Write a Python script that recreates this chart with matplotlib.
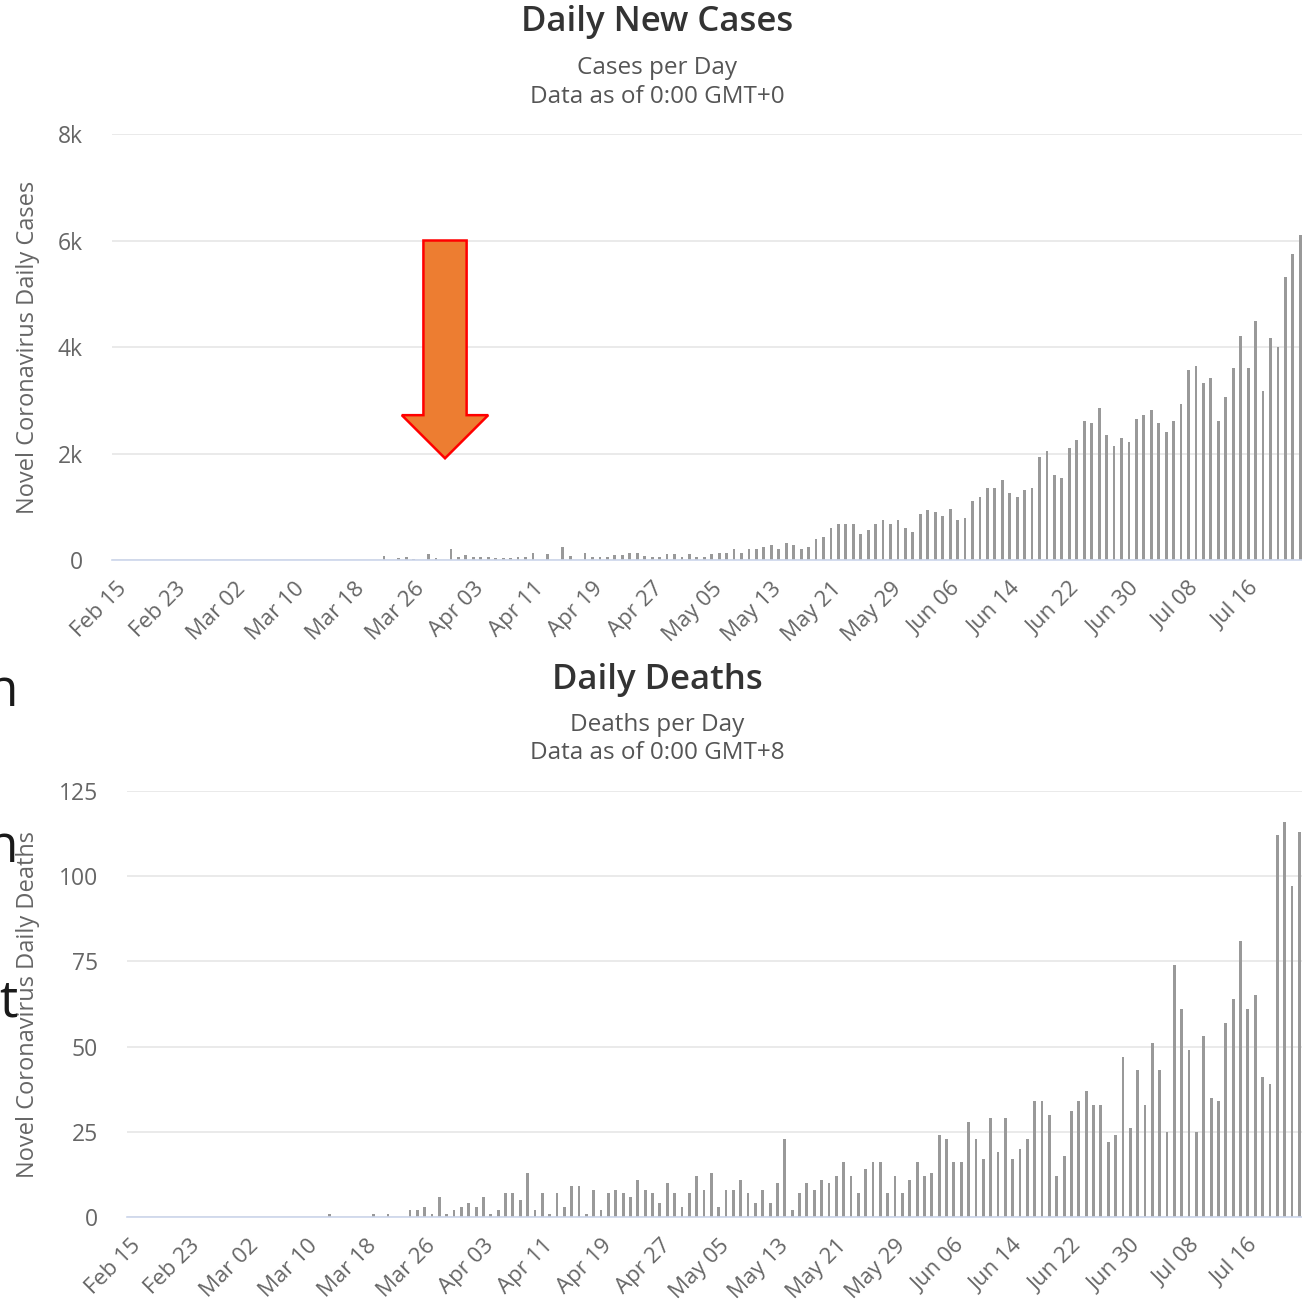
import matplotlib.pyplot as plt
import numpy as np
import pandas as pd
from matplotlib.patches import Polygon

plt.rcParams["font.family"] = ["Open Sans", "DejaVu Sans"]

# Daily series, one value per day from Feb 15 to Jul 23
dates = pd.date_range("2020-02-15", "2020-07-23", freq="D")
day_labels = [d.strftime("%b %d") for d in dates]

daily_cases = [0] * 36 + [
    75, 0, 38, 50, 25, 0, 107, 38, 0, 214,
    63, 100, 50, 63, 50, 38, 38, 38, 50, 50,
    132, 0, 107, 0, 245, 75, 0, 126, 63, 63,
    63, 100, 100, 126, 126, 75, 63, 63, 107, 107,
    63, 107, 63, 63, 107, 138, 138, 208, 138, 208,
    208, 245, 283, 208, 315, 283, 208, 245, 390, 428,
    610, 679, 679, 679, 497, 566, 679, 749, 679, 749,
    610, 535, 855, 931, 893, 824, 962, 749, 786, 1110,
    1179, 1361, 1361, 1499, 1254, 1179, 1323, 1361, 1931, 2038,
    1605, 1536, 2107, 2251, 2608, 2571, 2853, 2351, 2144, 2282,
    2213, 2640, 2715, 2815, 2571, 2395, 2608, 2928, 3568, 3637,
    3317, 3423, 2602, 3066, 3599, 4207, 3599, 4496, 3173, 4170,
    3994, 5317, 5743, 6094,
]

daily_deaths = [0] * 27 + [
    1, 0, 0, 0, 0, 0, 1, 0, 1, 0,
    0, 2, 2, 3, 1, 6, 1, 2, 3, 4,
    3, 6, 1, 2, 7, 7, 5, 13, 2, 7,
    1, 7, 3, 9, 9, 1, 8, 2, 7, 8,
    7, 6, 11, 8, 7, 4, 10, 7, 3, 7,
    12, 8, 13, 3, 8, 8, 11, 7, 4, 8,
    4, 10, 23, 2, 7, 10, 8, 11, 10, 12,
    16, 12, 7, 14, 16, 16, 7, 12, 7, 11,
    16, 12, 13, 24, 23, 16, 16, 28, 23, 17,
    29, 19, 29, 17, 20, 23, 34, 34, 30, 12,
    18, 31, 34, 37, 33, 33, 22, 24, 47, 26,
    43, 33, 51, 43, 25, 74, 61, 49, 25, 53,
    35, 34, 57, 64, 81, 61, 65, 41, 39, 112,
    116, 97, 113,
]

W, H = 1302, 1299
fig = plt.figure(figsize=(W / 100, H / 100), dpi=100)

bar_color = "#999999"
grid_color = "#e6e6e6"
axis_color = "#ccd6eb"
label_color = "#666666"


def draw_panel(rect, values, ymax, yticks, yticklabels, ylabel):
    ax = fig.add_axes(rect)
    x = np.arange(len(values))
    ax.bar(x, values, width=0.38, color=bar_color, zorder=3)
    ax.set_xlim(-0.5, len(values) - 0.5)
    ax.set_ylim(0, ymax)
    ax.set_yticks(yticks)
    ax.set_yticklabels(yticklabels, fontsize=16.5, color=label_color)
    ax.tick_params(axis="y", length=0, pad=21)
    ax.set_xticks(x[::8])
    ax.set_xticklabels(day_labels[::8], rotation=45, ha="right",
                       rotation_mode="anchor", fontsize=16, color=label_color)
    ax.tick_params(axis="x", length=0, pad=13)
    ax.grid(axis="y", color=grid_color, lw=1.2, zorder=0)
    for s in ["top", "right", "left"]:
        ax.spines[s].set_visible(False)
    ax.spines["bottom"].set_color(axis_color)
    ax.spines["bottom"].set_linewidth(1.2)
    ax.spines["bottom"].set_zorder(4)
    # axis title sits at a fixed spot near the left edge
    pos = ax.get_position()
    fig.text(28 / W, pos.y0 + pos.height / 2, ylabel, rotation=90,
             ha="center", va="center", fontsize=17, color=label_color)
    return ax


ax1 = draw_panel([112 / W, 1 - 560 / H, 1192 / W, 426 / H], daily_cases,
                 8000, [0, 2000, 4000, 6000, 8000],
                 ["0", "2k", "4k", "6k", "8k"], "Novel Coronavirus Daily Cases")

ax2 = draw_panel([127 / W, 1 - 1217 / H, 1176 / W, 426 / H], daily_deaths,
                 125, [0, 25, 50, 75, 100, 125],
                 ["0", "25", "50", "75", "100", "125"],
                 "Novel Coronavirus Daily Deaths")

# Orange down arrow pointing at the early cases
arrow = Polygon(
    [(41.3, 6000), (47.1, 6000), (47.1, 2720), (50.0, 2720), (44.2, 1910),
     (38.4, 2720), (41.3, 2720)],
    closed=True, facecolor="#ed7d31", edgecolor="#ff0000", lw=1.8, zorder=6,
)
ax1.add_patch(arrow)

# Titles
title_kw = dict(ha="center", va="center", fontsize=25, color="#333333",
                fontweight="semibold")
sub_kw = dict(ha="center", va="center", fontsize=17.5, color="#555555")
fig.text(657 / W, 1 - 22 / H, "Daily New Cases", **title_kw)
fig.text(657 / W, 1 - 68 / H, "Cases per Day", **sub_kw)
fig.text(657 / W, 1 - 97 / H, "Data as of 0:00 GMT+0", **sub_kw)
fig.text(657 / W, 1 - 680 / H, "Daily Deaths", **title_kw)
fig.text(657 / W, 1 - 725 / H, "Deaths per Day", **sub_kw)
fig.text(657 / W, 1 - 753 / H, "Data as of 0:00 GMT+8", **sub_kw)

# Clipped words along the left edge
for ypx, ch in [(692, "n"), (849, "n"), (1003, "t")]:
    fig.text(18 / W, 1 - ypx / H, ch, ha="right", va="center",
             fontsize=37, color="#1a1a1a")

fig.savefig("out.png", dpi=100)
